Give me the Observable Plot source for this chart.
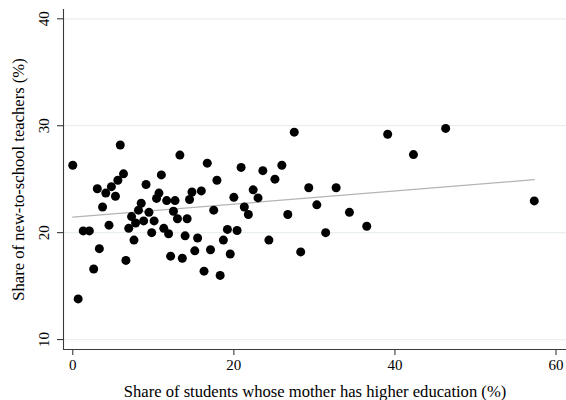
<!DOCTYPE html>
<html>
<head>
<meta charset="utf-8">
<script src="https://cdn.jsdelivr.net/npm/d3@7"></script>
<script src="https://cdn.jsdelivr.net/npm/@observablehq/plot@0.6"></script>
<style>
  html, body { margin: 0; padding: 0; background: #fff; }
  #chart { width: 566px; height: 400px; }
</style>
</head>
<body>
<div id="chart"></div>
<script>
// Share of students whose mother has higher education (%)
const motherHigherEd = [
  0, 0.67, 1.3, 2.06, 2.6, 3.05, 3.3, 3.7, 4.1, 4.5,
  4.8, 5.3, 5.6, 5.9, 6.3, 6.6, 6.95, 7.3, 7.6, 7.8,
  8.16, 8.5, 8.8, 9.1, 9.46, 9.8, 10.1, 10.4, 10.7, 11.0,
  11.3, 11.66, 11.9, 12.15, 12.5, 12.7, 13.0, 13.3, 13.6, 13.95,
  14.2, 14.5, 14.8, 15.15, 15.5, 15.96, 16.3, 16.7, 17.1, 17.5,
  17.9, 18.3, 18.7, 19.2, 19.55, 20.0, 20.4, 20.9, 21.3, 21.8,
  22.4, 23.0, 23.6, 24.35, 25.1, 25.96, 26.7, 27.5, 28.3, 29.3,
  30.3, 31.4, 32.7, 34.35, 36.5, 39.1, 42.3, 46.3, 57.3
];
// Share of new-to-school teachers (%)
const newTeachers = [
  26.3, 13.8, 20.16, 20.16, 16.6, 24.1, 18.5, 22.4, 23.7, 20.7,
  24.3, 23.4, 24.9, 28.2, 25.5, 17.4, 20.4, 21.5, 19.3, 20.9,
  22.1, 22.75, 21.1, 24.5, 21.9, 20.0, 21.1, 23.2, 23.7, 25.4,
  20.4, 23.0, 19.9, 17.8, 22.0, 23.0, 21.3, 27.25, 17.6, 19.7,
  21.3, 23.1, 23.8, 18.3, 19.5, 23.9, 16.4, 26.5, 18.4, 22.1,
  24.9, 16.0, 19.3, 20.3, 18.0, 23.3, 20.2, 26.1, 22.4, 21.7,
  24.0, 23.25, 25.8, 19.3, 25.0, 26.3, 21.7, 29.4, 18.2, 24.2,
  22.6, 20.0, 24.2, 21.9, 20.6, 29.2, 27.3, 29.75, 22.97
];
// Fitted line end points
const fitX = [0, 57.3];
const fitY = [21.45, 24.95];
// Tick labels
const xTicks = [0, 20, 40, 60];
const yTicks = [10, 20, 30, 40];

const points = motherHigherEd.map((x, i) => ({x, y: newTeachers[i]}));
const fit = fitX.map((x, i) => ({x, y: fitY[i]}));

const xDomain = [-1.15, 61.3];
const yDomain = [9.07, 40.87];
const font = "'Liberation Serif', 'Times New Roman', serif";
const axisColor = "#3a3a3a";

const chart = Plot.plot({
  width: 566,
  height: 400,
  marginLeft: 63,
  marginRight: 0,
  marginTop: 9,
  marginBottom: 51,
  style: {fontFamily: font, fontSize: "14px", background: "#fff", color: "#000"},
  x: {type: "linear", domain: xDomain, axis: null},
  y: {type: "linear", domain: yDomain, axis: null},
  marks: [
    // gridlines
    Plot.ruleY(yTicks, {stroke: "#eaf0ef", strokeWidth: 1.2}),
    // axis lines
    Plot.ruleX([xDomain[0]], {stroke: axisColor, strokeWidth: 1.1}),
    Plot.ruleY([yDomain[0]], {stroke: axisColor, strokeWidth: 1.1}),
    // outward tick marks (about 6px long)
    Plot.ruleY(yTicks, {x1: xDomain[0] - 0.75, x2: xDomain[0], stroke: axisColor, strokeWidth: 1.1}),
    Plot.ruleX(xTicks, {y1: yDomain[0] - 0.56, y2: yDomain[0], stroke: axisColor, strokeWidth: 1.1}),
    // tick labels
    Plot.text(yTicks, {x: xDomain[0], y: d => d, text: d => String(d), rotate: -90, dx: -19.5,
      textAnchor: "middle", lineAnchor: "middle", fontSize: 15, fill: "#000"}),
    Plot.text(xTicks, {x: d => d, y: yDomain[0], text: d => String(d), dy: 15.5,
      textAnchor: "middle", lineAnchor: "middle", fontSize: 15, fill: "#000"}),
    // axis titles
    Plot.text(["Share of students whose mother has higher education (%)"], {
      frameAnchor: "bottom", dy: 42, textAnchor: "middle", lineAnchor: "middle", fontSize: 16.6, fill: "#000"}),
    Plot.text(["Share of new-to-school teachers (%)"], {
      frameAnchor: "left", dx: -45, rotate: -90, textAnchor: "middle", lineAnchor: "middle", fontSize: 16.6, fill: "#000"}),
    // fit line
    Plot.line(fit, {x: "x", y: "y", stroke: "#b4b4b4", strokeWidth: 1.3}),
    // points
    Plot.dot(points, {x: "x", y: "y", r: 4.5, fill: "#000", stroke: "none"})
  ]
});

document.getElementById("chart").appendChild(chart);
</script>
</body>
</html>
